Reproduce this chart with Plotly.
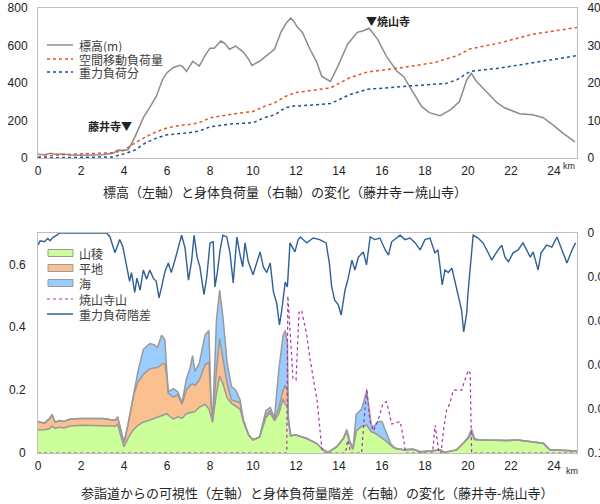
import plotly.graph_objects as go

# ---------------- top chart data ----------------
elev_km = [0, 0.3, 0.6, 0.8, 1.2, 1.5, 2.0, 2.5, 3.0, 3.5, 3.7, 4.0, 4.2, 4.5, 4.9, 5.2, 5.5, 5.8, 6.0, 6.3,
           6.6, 6.75, 6.9, 7.2, 7.5, 7.8, 8.0, 8.2, 8.5, 8.7, 8.9, 9.2, 9.55, 9.8, 9.95, 10.3, 10.7, 11.0,
           11.3, 11.55, 11.75, 11.9, 12.05, 12.3, 12.65, 12.97, 13.2, 13.6, 13.95, 14.4, 14.85, 15.1, 15.4,
           15.8, 16.2, 16.7, 17.0, 17.45, 17.85, 18.2, 18.7, 19.2, 19.6, 19.95, 20.15, 20.4, 20.9, 21.35,
           21.7, 22.4, 23.0, 23.5, 23.95, 24.4, 24.97]
elev_m = [20, 18, 25, 20, 22, 16, 15, 17, 18, 25, 42, 40, 45, 110, 215, 270, 328, 420, 455, 483,
          494, 485, 462, 516, 490, 553, 585, 585, 624, 610, 580, 597, 565, 526, 494, 516, 553, 580,
          672, 720, 746, 730, 700, 670, 580, 510, 435, 408, 490, 607, 670, 677, 692,
          633, 543, 462, 435, 349, 274, 242, 226, 258, 301, 419, 451, 408, 349, 295,
          268, 236, 231, 215, 177, 134, 86]

space_km = [0, 1.0, 2.0, 3.0, 3.5, 4.0, 4.5, 5.0, 5.5, 6.0, 6.5, 7.0, 7.5, 8.0, 8.5, 9.0, 10.0, 10.5,
            11.0, 11.5, 12.0, 12.2, 13.6, 14.5, 15.3, 16.8, 18.4, 19.5, 20.1, 21.5, 23.0, 25.07]
space_load = [0.3, 0.8, 1.1, 1.2, 1.4, 2.1, 4.0, 5.6, 7.0, 8.0, 8.6, 8.9, 9.4, 10.7, 11.3, 11.7, 12.4, 13.7,
              14.7, 16.4, 17.5, 17.6, 18.7, 21.4, 22.9, 24.0, 25.4, 27.3, 29.1, 30.7, 33.0, 34.8]

grav_km = [0, 3.5, 4.0, 4.5, 5.0, 5.5, 6.0, 7.0, 7.5, 8.0, 9.0, 10.0, 10.5, 11.0, 11.5, 12.0, 12.2,
           13.6, 14.5, 15.3, 16.8, 19.0, 19.5, 20.1, 21.5, 23.4, 25.07]
grav_load = [0, 0.3, 1.1, 2.1, 4.0, 5.3, 6.2, 6.7, 7.2, 8.3, 9.1, 9.4, 10.7, 11.5, 13.4, 14.0, 13.9,
             14.5, 16.9, 18.3, 19.0, 19.9, 20.9, 23.1, 24.0, 25.8, 27.3]

# ---------------- bottom chart data ----------------
vis_km = [0.0, 0.3, 0.55, 0.65, 0.8, 1.0, 1.2, 1.5, 2.0, 3.0, 3.4, 3.6, 3.7, 3.85, 4.0, 4.2, 4.45, 4.65,
          4.9, 5.2, 5.4, 5.55, 5.75, 5.9, 6.0, 6.06, 6.3, 6.5, 6.7, 6.9, 7.07, 7.19, 7.3, 7.5, 7.77, 7.95,
          8.05, 8.12, 8.3, 8.45, 8.6, 8.8, 9.0, 9.2, 9.4, 9.55, 9.8, 10.0, 10.3, 10.6, 10.8, 11.0, 11.2,
          11.4, 11.5, 11.6, 11.65, 11.75, 12.0, 12.5, 12.97, 13.27, 13.5, 13.9, 14.2, 14.36, 14.5, 14.65,
          14.8, 15.05, 15.29, 15.5, 15.6, 15.8, 16.0, 16.2, 16.4, 16.6, 17.0, 17.45, 17.77, 18.3, 18.7,
          18.9, 19.47, 19.78, 20.0, 20.17, 20.3, 20.6, 21.0, 21.8, 22.3, 22.9, 23.5, 23.8, 24.4, 25.07]
# 山稜 (top of green)
ridge = [0.073, 0.074, 0.078, 0.085, 0.078, 0.082, 0.080, 0.086, 0.088, 0.088, 0.086, 0.085, 0.092, 0.055,
         0.020, 0.048, 0.075, 0.088, 0.098, 0.105, 0.110, 0.115, 0.120, 0.125, 0.125, 0.120, 0.108, 0.115,
         0.110, 0.125, 0.128, 0.130, 0.132, 0.145, 0.155, 0.140, 0.110, 0.098, 0.190, 0.245, 0.220, 0.175,
         0.158, 0.150, 0.140, 0.100, 0.057, 0.042, 0.050, 0.112, 0.128, 0.102, 0.125, 0.172, 0.155, 0.150,
         0.100, 0.055, 0.057, 0.046, 0.030, 0.010, 0.002, 0.020, 0.046, 0.068, 0.032, 0.012, 0.070, 0.085,
         0.089, 0.068, 0.066, 0.058, 0.048, 0.038, 0.025, 0.015, 0.010, 0.012, 0.004, 0.006, 0.010, 0.002,
         0.010, 0.031, 0.046, 0.063, 0.043, 0.041, 0.040, 0.040, 0.041, 0.036, 0.031, 0.010, 0.008, 0.006]
# 山稜 + 平地 (top of orange)
plain_top = [0.100, 0.095, 0.110, 0.122, 0.098, 0.103, 0.100, 0.108, 0.110, 0.110, 0.106, 0.104, 0.115, 0.070,
             0.032, 0.095, 0.185, 0.225, 0.250, 0.268, 0.270, 0.272, 0.282, 0.285, 0.240, 0.190, 0.178, 0.185,
             0.155, 0.200, 0.215, 0.220, 0.215, 0.232, 0.280, 0.290, 0.160, 0.102, 0.264, 0.364, 0.300, 0.220,
             0.169, 0.165, 0.160, 0.105, 0.057, 0.042, 0.050, 0.120, 0.135, 0.108, 0.142, 0.200, 0.215, 0.200,
             0.105, 0.055, 0.057, 0.046, 0.030, 0.010, 0.002, 0.020, 0.046, 0.068, 0.032, 0.012, 0.070, 0.085,
             0.089, 0.068, 0.066, 0.058, 0.048, 0.038, 0.025, 0.015, 0.010, 0.012, 0.004, 0.006, 0.010, 0.002,
             0.010, 0.031, 0.046, 0.063, 0.043, 0.041, 0.040, 0.040, 0.041, 0.036, 0.031, 0.010, 0.008, 0.006]
# 山稜 + 平地 + 海 (top of blue)
sea_top = [0.100, 0.095, 0.110, 0.122, 0.098, 0.103, 0.100, 0.108, 0.110, 0.110, 0.106, 0.104, 0.115, 0.070,
           0.032, 0.095, 0.190, 0.260, 0.330, 0.348, 0.345, 0.335, 0.375, 0.360, 0.250, 0.195, 0.205, 0.195,
           0.160, 0.235, 0.270, 0.310, 0.260, 0.285, 0.375, 0.390, 0.160, 0.102, 0.422, 0.518, 0.433, 0.285,
           0.211, 0.200, 0.169, 0.105, 0.057, 0.042, 0.050, 0.135, 0.145, 0.112, 0.264, 0.374, 0.390, 0.348,
           0.105, 0.055, 0.057, 0.046, 0.030, 0.010, 0.002, 0.020, 0.046, 0.075, 0.040, 0.015, 0.122, 0.140,
           0.196, 0.090, 0.082, 0.100, 0.100, 0.063, 0.030, 0.015, 0.010, 0.012, 0.004, 0.006, 0.010, 0.002,
           0.010, 0.031, 0.050, 0.076, 0.046, 0.041, 0.040, 0.040, 0.041, 0.036, 0.031, 0.010, 0.008, 0.006]

yak_km = [0, 11.57, 11.62, 11.86, 12.0, 12.14, 12.26, 12.5, 12.65, 12.88, 12.99, 13.2, 13.27, 14.3, 14.4,
          14.55, 15.05, 15.15, 15.29, 15.44, 15.6, 15.8, 16.05, 16.2, 16.3, 16.45, 16.6, 16.85, 17.0, 17.1,
          18.35, 18.47, 18.65, 18.75, 18.85, 19.0, 19.15, 19.32, 19.7, 20.01, 20.1, 20.17, 25.07]
yak_vis = [0, 0, 0.50, 0.237, 0.232, 0.448, 0.454, 0.375, 0.30, 0.205, 0.163, 0.014, 0, 0, 0.041,
           0, 0, 0.09, 0.205, 0.10, 0.07, 0.10, 0.158, 0.163, 0.14, 0.092, 0.095, 0.10, 0.045, 0,
           0, 0.089, 0, 0, 0.066, 0.136, 0.157, 0.20, 0.20, 0.263, 0.253, 0, 0]

diff_km = [0.0, 0.1, 0.3, 0.45, 0.56, 0.7, 0.88, 1.0, 3.2, 3.35, 3.58, 3.67, 3.8, 3.95, 4.1, 4.26, 4.35,
           4.5, 4.6, 4.75, 4.9, 5.05, 5.2, 5.36, 5.5, 5.63, 5.75, 5.9, 6.06, 6.2, 6.37, 6.5, 6.68, 6.84,
           7.0, 7.15, 7.26, 7.4, 7.53, 7.72, 7.85, 8.0, 8.15, 8.23, 8.34, 8.47, 8.6, 8.78, 8.93, 9.08,
           9.25, 9.4, 9.52, 9.63, 9.78, 10.0, 10.17, 10.33, 10.48, 10.64, 10.8, 10.95, 11.1, 11.23, 11.34,
           11.5, 11.6, 11.72, 11.95, 12.1, 12.2, 12.5, 12.8, 13.1, 13.4, 13.55, 13.66, 13.8, 13.97, 14.1,
           14.28, 14.43, 14.6, 14.74, 14.9, 15.13, 15.28, 15.45, 15.67, 15.9, 16.15, 16.3, 16.45, 16.7,
           16.84, 17.07, 17.3, 17.55, 17.77, 18.0, 18.23, 18.46, 18.6, 18.7, 18.8, 18.93, 19.08, 19.25,
           19.4, 19.55, 19.7, 19.8, 19.94, 20.0, 20.12, 20.24, 20.47, 20.7, 20.94, 21.1, 21.34, 21.57,
           21.72, 21.88, 22.1, 22.33, 22.56, 22.9, 23.03, 23.26, 23.4, 23.66, 23.9, 24.14, 24.37, 24.6,
           24.84, 25.0]
diff_val = [0.0055, 0.0035, 0.004, 0.0025, 0.0035, 0.002, 0.001, 0.0, 0.0, 0.0018, 0.009, 0.0068, 0.003,
            0.0064, 0.0136, 0.022, 0.018, 0.027, 0.0205, 0.026, 0.0168, 0.021, 0.0168, 0.0205, 0.022, 0.0295,
            0.0245, 0.0177, 0.0136, 0.018, 0.0123, 0.0077, 0.001, 0.0068, 0.0214, 0.0123, 0.001, 0.011,
            0.0154, 0.028, 0.020, 0.0045, 0.004, 0.0245, 0.018, 0.0077, 0.001, 0.0018, 0.009, 0.0227,
            0.0018, 0.010, 0.0154, 0.0045, 0.013, 0.019, 0.0136, 0.0086, 0.0154, 0.018, 0.0136, 0.0268,
            0.0318, 0.0418, 0.035, 0.0223, 0.0245, 0.0045, 0.0086, 0.003, 0.0018, 0.0045, 0.0023, 0.003,
            0.0045, 0.0136, 0.0245, 0.0305, 0.0327, 0.0373, 0.026, 0.0205, 0.0123, 0.0168, 0.011, 0.0086,
            0.0145, 0.0018, 0.003, 0.0023, 0.0077, 0.010, 0.004, 0.0018, 0.001, 0.003, 0.0023, 0.0045,
            0.0077, 0.003, 0.0023, 0.009, 0.0077, 0.0154, 0.0236, 0.0168, 0.018, 0.016, 0.0223, 0.0273,
            0.035, 0.045, 0.0364, 0.0273, 0.0123, 0.001, 0.0023, 0.0045, 0.009, 0.0123, 0.0086, 0.0055,
            0.011, 0.013, 0.009, 0.0077, 0.0045, 0.011, 0.0086, 0.0168, 0.009, 0.0055, 0.0064, 0.0018,
            0.0077, 0.0136, 0.0077, 0.0045]

x_ticks = [0, 2, 4, 6, 8, 10, 12, 14, 16, 18, 20, 22, 24]
x_ticktext = ['0', '2', '4', '6', '8', '10', '12', '14', '16', '18', '20', '22', '24']
elev_ticks = [0, 200, 400, 600, 800]
load_ticks = [0, 10, 20, 30, 40]
vis_ticks = [0, 0.2, 0.4, 0.6]
vis_ticktext = ['0', '0.2', '0.4', '0.6']
diff_ticks = [0, 0.02, 0.04, 0.06, 0.08, 0.1]
diff_ticktext = ['0', '0.0', '0.0', '0.0', '0.0', '0.1']

# ---------------- figure ----------------
GRAY = '#9a9a9a'
C_RIDGE = '#ccff99'
C_PLAIN = '#fac090'
C_SEA = '#99ccff'
C_YAK = '#b030a8'
C_DIFF = '#2f5f97'
C_SPACE = '#e8501e'
C_GRAV = '#1f4e8c'
C_ELEV = '#8c8c8c'

fig = go.Figure()
fig.add_trace(go.Scatter(x=elev_km, y=elev_m, xaxis='x', yaxis='y', mode='lines',
                         line=dict(color=C_ELEV, width=1.5), name='標高(m)', showlegend=False))
fig.add_trace(go.Scatter(x=space_km, y=space_load, xaxis='x', yaxis='y2', mode='lines',
                         line=dict(color=C_SPACE, width=1.5, dash='dot'), name='空間移動負荷量', showlegend=False))
fig.add_trace(go.Scatter(x=grav_km, y=grav_load, xaxis='x', yaxis='y2', mode='lines',
                         line=dict(color=C_GRAV, width=1.5, dash='dot'), name='重力負荷分', showlegend=False))

fig.add_trace(go.Scatter(x=vis_km, y=ridge, xaxis='x2', yaxis='y3', mode='lines', fill='tozeroy',
                         fillcolor=C_RIDGE, line=dict(color=GRAY, width=1.5), name='山稜', showlegend=False))
fig.add_trace(go.Scatter(x=vis_km, y=plain_top, xaxis='x2', yaxis='y3', mode='lines', fill='tonexty',
                         fillcolor=C_PLAIN, line=dict(color=GRAY, width=1.5), name='平地', showlegend=False))
fig.add_trace(go.Scatter(x=vis_km, y=sea_top, xaxis='x2', yaxis='y3', mode='lines', fill='tonexty',
                         fillcolor=C_SEA, line=dict(color=GRAY, width=1.5), name='海', showlegend=False))
fig.add_trace(go.Scatter(x=yak_km, y=yak_vis, xaxis='x2', yaxis='y3', mode='lines',
                         line=dict(color=C_YAK, width=1.2, dash='dot'), name='焼山寺山', showlegend=False))
fig.add_trace(go.Scatter(x=diff_km, y=diff_val, xaxis='x2', yaxis='y4', mode='lines',
                         line=dict(color=C_DIFF, width=1.4), name='重力負荷階差', showlegend=False))

L, R, T, B = 38, 23, 8, 51
W, H = 600, 504
PW, PH = W - L - R, H - T - B


def pxx(v):
    return (v - L) / PW


def pxy(v):
    return (H - B - v) / PH


tickfont = dict(family='Liberation Sans, Arial, sans-serif', size=12, color='#222')
axis_common = dict(showgrid=False, zeroline=False, ticks='', showline=True, linecolor='#bfbfbf',
                   linewidth=1, tickfont=tickfont, automargin=False)

fig.update_layout(
    width=W, height=H, margin=dict(l=L, r=R, t=T, b=B, autoexpand=False),
    paper_bgcolor='white', plot_bgcolor='white',
    font=dict(family='Noto Sans CJK JP, sans-serif', color='#333'),
    xaxis=dict(domain=[0, 1], anchor='y', range=[0, 25.07], tickvals=x_ticks, ticktext=x_ticktext,
               mirror=True, ticklabelstandoff=2, **axis_common),
    yaxis=dict(domain=[pxy(158), 1], anchor='x', range=[0, 800], tickvals=elev_ticks, mirror=True,
               ticklabelstandoff=7, **axis_common),
    yaxis2=dict(overlaying='y', side='right', anchor='x', range=[0, 40], tickvals=load_ticks,
                ticklabelstandoff=7, **axis_common),
    xaxis2=dict(domain=[0, 1], anchor='y3', range=[0, 25.07], tickvals=x_ticks, ticktext=x_ticktext,
                mirror=True, ticklabelstandoff=2, **axis_common),
    yaxis3=dict(domain=[0, pxy(233)], anchor='x2', range=[0, 0.7], tickvals=vis_ticks, ticktext=vis_ticktext,
                mirror=True, ticklabelstandoff=9, **axis_common),
    yaxis4=dict(overlaying='y3', side='right', anchor='x2', range=[0.1, 0], tickvals=diff_ticks,
                ticktext=diff_ticktext, ticklabelstandoff=7, **axis_common),
)

ann = []
shapes = []
legfont = dict(family='Noto Sans CJK JP, sans-serif', size=12, color='#404040')


def leg_text(text, y):
    ann.append(dict(text=text, x=pxx(77), y=pxy(y), xref='paper', yref='paper', xanchor='left',
                    yanchor='middle', showarrow=False, font=legfont, height=13))


def leg_line(y, color, dash, width=1.5):
    shapes.append(dict(type='line', xref='paper', yref='paper', x0=pxx(47), x1=pxx(73), y0=pxy(y), y1=pxy(y),
                       line=dict(color=color, width=width, dash=dash)))


def leg_rect(y, color):
    shapes.append(dict(type='rect', xref='paper', yref='paper', x0=pxx(48), x1=pxx(73), y0=pxy(y - 3.5),
                       y1=pxy(y + 3.5), fillcolor=color, line=dict(color=GRAY, width=1)))


# top legend
leg_line(45, C_ELEV, 'solid'); leg_text('標高(m)', 45)
leg_line(59, C_SPACE, 'dot'); leg_text('空間移動負荷量', 59)
leg_line(72, C_GRAV, 'dot'); leg_text('重力負荷分', 72)
# bottom legend
leg_rect(253, C_RIDGE); leg_text('山稜', 253)
leg_rect(268, C_PLAIN); leg_text('平地', 268)
leg_rect(283, C_SEA); leg_text('海', 283)
leg_line(299, C_YAK, 'dot', 1.2); leg_text('焼山寺山', 299)
leg_line(314, C_DIFF, 'solid'); leg_text('重力負荷階差', 314)

# place labels
ann.append(dict(text='<b>藤井寺▼</b>', x=4.45, y=172, xref='x', yref='y', xanchor='right', yanchor='middle',
                showarrow=False, font=dict(family='Noto Sans CJK JP, sans-serif', size=11, color='#222')))
ann.append(dict(text='<b>▼焼山寺</b>', x=15.15, y=730, xref='x', yref='y', xanchor='left', yanchor='middle',
                showarrow=False, font=dict(family='Noto Sans CJK JP, sans-serif', size=11, color='#222')))
# km units
ann.append(dict(text='km', x=pxx(561), y=pxy(166), xref='paper', yref='paper', xanchor='left', yanchor='middle',
                showarrow=False, font=dict(family='Liberation Sans, sans-serif', size=9, color='#222')))
ann.append(dict(text='km', x=pxx(564), y=pxy(471), xref='paper', yref='paper', xanchor='left', yanchor='middle',
                showarrow=False, font=dict(family='Liberation Sans, sans-serif', size=9, color='#222')))
# titles
titlefont = dict(family='Noto Sans CJK JP, sans-serif', size=13, color='#262626')
ann.append(dict(text='標高（左軸）と身体負荷量（右軸）の変化（藤井寺ー焼山寺）', x=pxx(285), y=pxy(191),
                xref='paper', yref='paper', xanchor='center', yanchor='middle', showarrow=False, font=titlefont))
ann.append(dict(text='参詣道からの可視性（左軸）と身体負荷量階差（右軸）の変化（藤井寺-焼山寺）', x=pxx(317),
                y=pxy(492), xref='paper', yref='paper', xanchor='center', yanchor='middle', showarrow=False,
                font=titlefont, height=16))

fig.update_layout(annotations=ann, shapes=shapes)
fig.write_html('out.html', config={'displayModeBar': False, 'staticPlot': True},
               post_script="document.body.style.margin='0';document.body.style.padding='0';"
                           "document.documentElement.style.overflow='hidden';")
